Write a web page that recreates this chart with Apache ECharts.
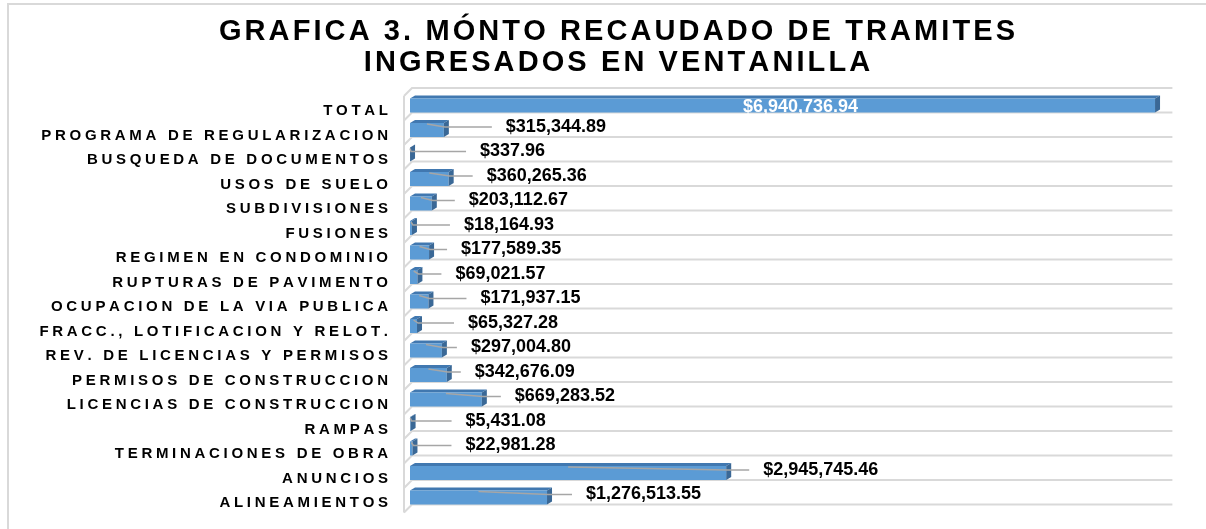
<!DOCTYPE html>
<html>
<head>
<meta charset="utf-8">
<style>
  html, body { margin: 0; padding: 0; background: #ffffff; }
  #chart { width: 1206px; height: 529px; }
</style>
<script src="https://cdn.jsdelivr.net/npm/echarts@6/dist/echarts.min.js"></script>
</head>
<body>
<div id="chart"></div>
<script>
// Trámites ingresados en ventanilla: monto recaudado por concepto
const categories = [
  'TOTAL',
  'PROGRAMA DE REGULARIZACION',
  'BUSQUEDA DE DOCUMENTOS',
  'USOS DE SUELO',
  'SUBDIVISIONES',
  'FUSIONES',
  'REGIMEN EN CONDOMINIO',
  'RUPTURAS DE PAVIMENTO',
  'OCUPACION DE LA VIA PUBLICA',
  'FRACC., LOTIFICACION Y RELOT.',
  'REV. DE LICENCIAS Y PERMISOS',
  'PERMISOS DE CONSTRUCCION',
  'LICENCIAS DE CONSTRUCCION',
  'RAMPAS',
  'TERMINACIONES DE OBRA',
  'ANUNCIOS',
  'ALINEAMIENTOS'
];

const amounts = [
  6940736.94, 315344.89, 337.96, 360265.36, 203112.67, 18164.93,
  177589.35, 69021.57, 171937.15, 65327.28, 297004.80, 342676.09,
  669283.52, 5431.08, 22981.28, 2945745.46, 1276513.55
];

const titleLines = ['GRAFICA 3. MÓNTO RECAUDADO DE TRAMITES', 'INGRESADOS EN VENTANILLA'];

// distance (px) between the end of each bar and its value label; null = label inside the bar
const labelGap = [null, 62, 70, 38, 37, 52, 32, 38, 52, 51, 29, 28, 33, 55, 53, 37, 39];

const FONT = '"Liberation Sans", Arial, sans-serif';

function money(v) {
  const parts = v.toFixed(2).split('.');
  return '$' + parts[0].replace(/\B(?=(\d{3})+(?!\d))/g, ',') + '.' + parts[1];
}

// letter-spaced text: a fixed-width rich token between every character
function spaced(str) {
  return str.split('').join('{g| }');
}

const DX = 5, DY = 3, FRONT_H = 14;
const WALL_DY = 8;

function renderItem(params, api) {
  const idx = api.value(1);
  const val = api.value(0);
  const center = api.coord([0, idx]);
  const band = api.size([0, 1])[1];
  const x0 = center[0];
  const x1 = api.coord([val, idx])[0];
  const xMax = api.coord([7000000, idx])[0];
  const yb = center[1] + band / 2;
  const yt = yb - FRONT_H - DY;
  const children = [];
  const gridStyle = { stroke: '#d9d9d9', lineWidth: 2, fill: null };

  const pushGridLine = function (y) {
    children.push({
      type: 'polyline', z2: 0,
      shape: { points: [[x0 - 6, y + WALL_DY], [x0 + 2, y], [xMax + 11, y]] },
      style: gridStyle
    });
  };
  if (params.dataIndex === 0) {
    const yTop = center[1] - band / 2;
    pushGridLine(yTop);
    const yBottom = yTop + band * categories.length;
    children.push({
      type: 'line', z2: 0,
      shape: { x1: x0 - 6, y1: yTop + WALL_DY, x2: x0 - 6, y2: yBottom + WALL_DY },
      style: gridStyle
    });
  }
  pushGridLine(yb);

  // 3D bar: top face, front face, side face
  children.push({
    type: 'polygon', z2: 10,
    shape: { points: [[x0, yt + DY], [x0 + DX, yt], [x1 + DX, yt], [x1, yt + DY]] },
    style: { fill: '#4178b0' }
  });
  children.push({
    type: 'rect', z2: 10,
    shape: { x: x0, y: yt + DY, width: Math.max(x1 - x0, 0), height: FRONT_H },
    style: { fill: '#5b9bd5' }
  });
  children.push({
    type: 'polygon', z2: 11,
    shape: { points: [[x1, yt + DY], [x1 + DX, yt], [x1 + DX, yb - DY], [x1, yb]] },
    style: { fill: '#3a6896' }
  });

  const gap = labelGap[params.dataIndex];
  if (gap == null) {
    children.push({
      type: 'text', z2: 30,
      style: {
        text: money(val), x: (x0 + x1) / 2 + 18, y: yb - 5,
        align: 'center', verticalAlign: 'middle',
        font: 'bold 18px ' + FONT, fill: '#ffffff'
      }
    });
  } else {
    const lx = x1 + gap;
    const ly = yb - 10;
    children.push({
      type: 'polyline', z2: 20,
      shape: { points: [[(x0 + x1) / 2, yt + 4], [x1 + 1, ly], [lx - 14, ly]] },
      style: { stroke: '#a6a6a6', lineWidth: 1.5, fill: null }
    });
    children.push({
      type: 'text', z2: 30,
      style: {
        text: money(val), x: lx, y: ly,
        align: 'left', verticalAlign: 'middle',
        font: 'bold 18px ' + FONT, fill: '#000000'
      }
    });
  }
  return { type: 'group', children: children };
}

const chart = echarts.init(document.getElementById('chart'), null, { renderer: 'canvas' });

chart.setOption({
  backgroundColor: '#ffffff',
  animation: false,
  title: {
    text: spaced(titleLines[0]) + '\n' + spaced(titleLines[1]),
    left: 612,
    top: 11,
    textAlign: 'center',
    textStyle: {
      fontFamily: FONT,
      fontSize: 29,
      fontWeight: 'bold',
      color: '#000000',
      lineHeight: 31,
      rich: { g: { width: 3.1, fontSize: 29, lineHeight: 31 } }
    }
  },
  graphic: [{
    type: 'rect',
    shape: { x: 8, y: 4, width: 1210, height: 540 },
    style: { fill: null, stroke: '#d9d9d9', lineWidth: 2 },
    silent: true
  }],
  grid: { left: 410, right: 44.6, top: 88, bottom: 24.5 },
  xAxis: {
    type: 'value', min: 0, max: 7000000, show: false
  },
  yAxis: {
    type: 'category',
    inverse: true,
    data: categories,
    axisLine: { show: false },
    axisTick: { show: false },
    splitLine: { show: false },
    axisLabel: {
      margin: 22,
      fontFamily: FONT,
      fontSize: 15,
      fontWeight: 'bold',
      color: '#000000',
      padding: [22, 0, 0, 0],
      formatter: function (v) { return spaced(v); },
      rich: { g: { width: 3.7, fontSize: 15 } }
    }
  },
  series: [{
    type: 'custom',
    renderItem: renderItem,
    encode: { x: 0, y: 1 },
    data: amounts.map(function (v, i) { return [v, i]; })
  }]
});
</script>
</body>
</html>
